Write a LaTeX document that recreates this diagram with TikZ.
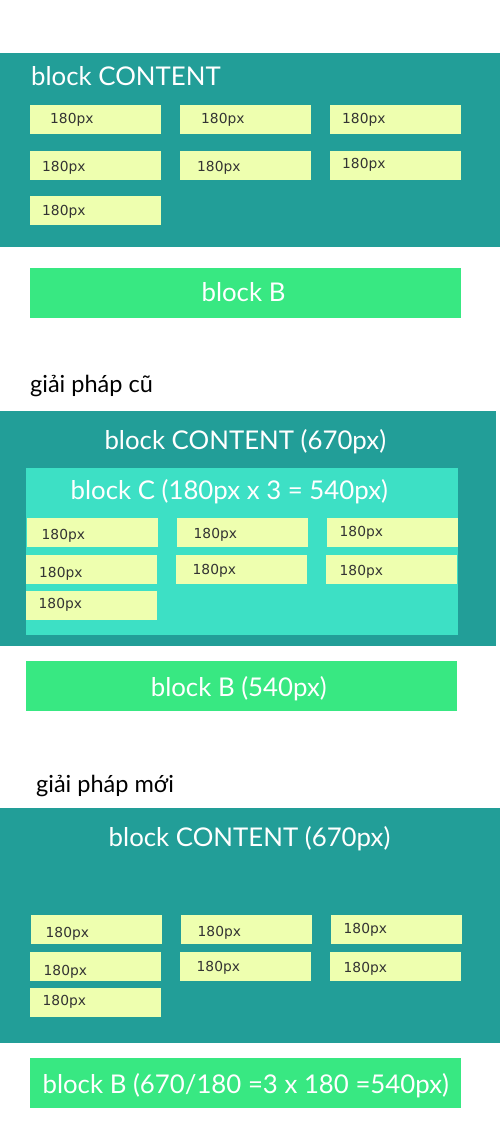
\documentclass[tikz,border=0pt]{standalone}
\usepackage{fontspec}
\setmainfont{Lato}
\newfontfamily\boxfont{DejaVu Sans}
\usepackage{tikz}
\usetikzlibrary{positioning}

\definecolor{tealbg}{HTML}{229E98}
\definecolor{turq}{HTML}{3DE0C5}
\definecolor{greenb}{HTML}{38E882}
\definecolor{yellowb}{HTML}{EEFFAF}
\definecolor{labgray}{HTML}{333333}

\tikzset{
    title/.style={text=white, inner sep=0pt, anchor=base, font=\fontsize{25.8}{28}\selectfont},
    head/.style={text=black, inner sep=0pt, anchor=base west, font=\fontsize{23.5}{25}\selectfont},
    lbl/.style={text=labgray, inner sep=0pt, anchor=base west, font=\boxfont\fontsize{13.8}{15}\selectfont},
    cell/.style={fill=yellowb}
}

\begin{document}
\begin{tikzpicture}[x=1pt, y=-1pt]
        \useasboundingbox (0,0) rectangle (500,1131);

        % section 1
        \fill[tealbg] (0,53) rectangle (500,247);
        \node[title, anchor=base west] (content1) at (31,86) {block CONTENT};

        \fill[cell] (30,105) rectangle (161,134);
        \fill[cell] (180,105) rectangle (311,134);
        \fill[cell] (330,105) rectangle (461,134);
        \fill[cell] (30,151) rectangle (161,180);
        \fill[cell] (180,151) rectangle (311,180);
        \fill[cell] (330,151) rectangle (461,180);
        \fill[cell] (30,196) rectangle (161,225);

        \node[lbl] (a1) at (50,123.2) {180px};
        \node[lbl] (a2) at (201,123.2) {180px};
        \node[lbl] (a3) at (342,123.2) {180px};
        \node[lbl] (a4) at (42,171.2) {180px};
        \node[lbl] (a5) at (197,171.2) {180px};
        \node[lbl] (a6) at (342,168.5) {180px};
        \node[lbl] (a7) at (42,215.5) {180px};

        \fill[greenb] (30,268) rectangle (461,318);
        \node[title] (blockB1) at (243.5,301.7) {block B};

        % section 2
        \node[head] (old) at (30,392) {giải pháp cũ};
        \fill[tealbg] (0,411) rectangle (496,646);
        \node[title] (content2) at (245.3,449) {block CONTENT (670px)};

        \fill[turq] (26,468) rectangle (458,635);
        \node[title] (blockC) at (229.3,499) {block C (180px x 3 = 540px)};

        \fill[cell] (27,518) rectangle (158,547);
        \fill[cell] (177,518) rectangle (308,547);
        \fill[cell] (327,518) rectangle (458,547);
        \fill[cell] (26,555) rectangle (157,584);
        \fill[cell] (176,555) rectangle (307,584);
        \fill[cell] (326,555) rectangle (457,584);
        \fill[cell] (26,591) rectangle (157,620);

        \node[lbl] (b1) at (41.5,539.5) {180px};
        \node[lbl] (b2) at (193.5,538.8) {180px};
        \node[lbl] (b3) at (339.5,536.2) {180px};
        \node[lbl] (b4) at (39,577.8) {180px};
        \node[lbl] (b5) at (192.5,574.2) {180px};
        \node[lbl] (b6) at (339.5,575.2) {180px};
        \node[lbl] (b7) at (38.5,608.2) {180px};

        \fill[greenb] (26,661) rectangle (457,711);
        \node[title] (blockB2) at (238.8,696.5) {block B (540px)};

        % section 3
        \node[head] (new) at (36,792) {giải pháp mới};
        \fill[tealbg] (0,808) rectangle (500,1043);
        \node[title] (content3) at (249.5,846) {block CONTENT (670px)};

        \fill[cell] (31,915) rectangle (162,944);
        \fill[cell] (181,915) rectangle (312,944);
        \fill[cell] (331,915) rectangle (462,944);
        \fill[cell] (30,952) rectangle (161,981);
        \fill[cell] (180,952) rectangle (311,981);
        \fill[cell] (330,952) rectangle (461,981);
        \fill[cell] (30,988) rectangle (161,1017);

        \node[lbl] (c1) at (45.5,937.2) {180px};
        \node[lbl] (c2) at (197.5,936.2) {180px};
        \node[lbl] (c3) at (343.5,933.2) {180px};
        \node[lbl] (c4) at (43.5,975.2) {180px};
        \node[lbl] (c5) at (196.5,971.2) {180px};
        \node[lbl] (c6) at (343.5,972.2) {180px};
        \node[lbl] (c7) at (42.5,1005.2) {180px};

        \fill[greenb] (30,1058) rectangle (461,1108);
        \node[title] (blockB3) at (245.8,1093.3) {block B (670/180 =3 x 180 =540px)};
    \end{tikzpicture}
\end{document}
